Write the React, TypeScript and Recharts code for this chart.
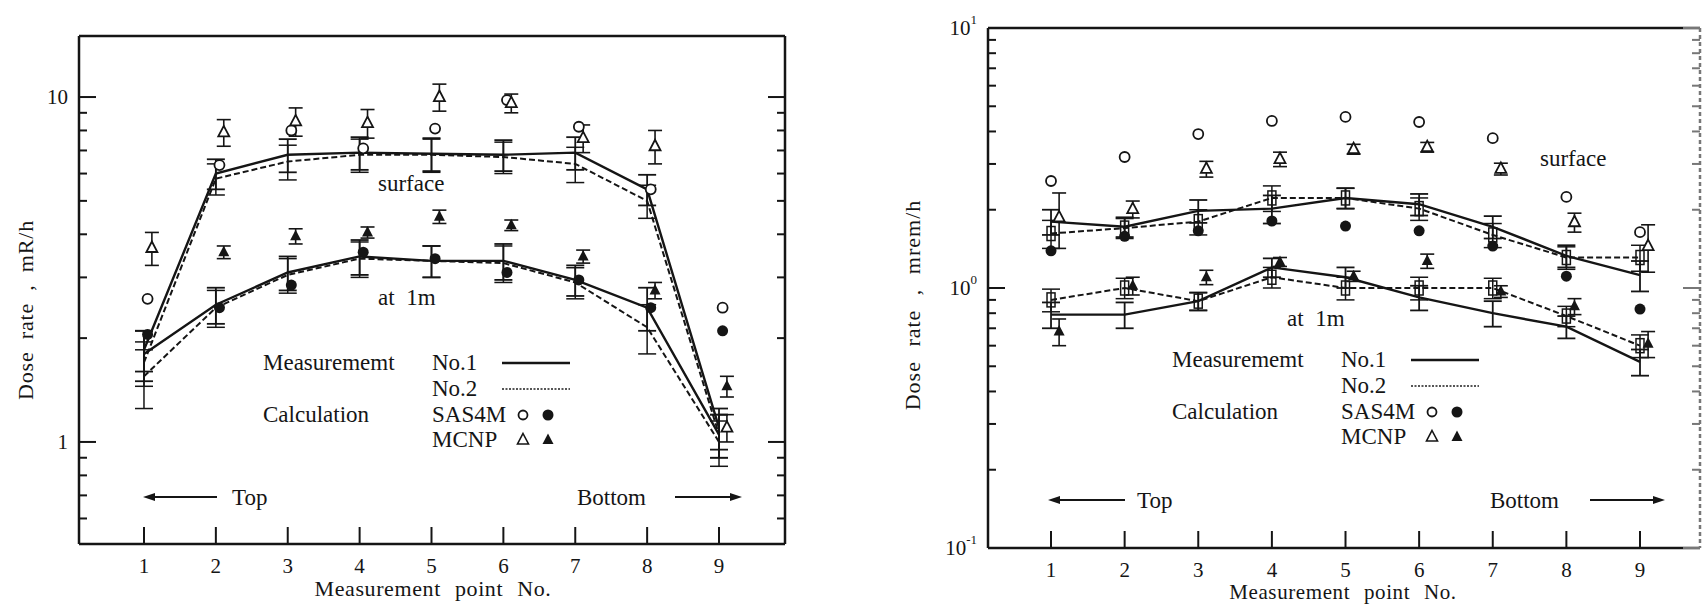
import React from 'react';
import { ComposedChart, ErrorBar, Line, Scatter, XAxis, YAxis } from 'recharts';

const INK = '#151515';
const SERIF = "'Liberation Serif', 'Times New Roman', 'DejaVu Serif', serif";

const POINT_NO = [1, 2, 3, 4, 5, 6, 7, 8, 9];

// left figure, dose rate in mR/h
const L_SURF_NO1 = [1.85, 6.0, 6.8, 6.9, 6.85, 6.8, 6.9, 5.4, 1.1];
const L_SURF_NO2 = [1.7, 5.8, 6.5, 6.8, 6.8, 6.7, 6.4, 5.0, 1.05];
const L_SURF_ERR = [0.25, 0.6, 0.75, 0.75, 0.75, 0.7, 0.75, 0.55, 0.15];
const L_1M_NO1 = [1.8, 2.5, 3.1, 3.45, 3.35, 3.35, 2.95, 2.45, 1.05];
const L_1M_NO2 = [1.55, 2.45, 3.05, 3.4, 3.35, 3.3, 2.9, 2.15, 1.0];
const L_1M_ERR = [0.3, 0.3, 0.35, 0.4, 0.35, 0.4, 0.3, 0.35, 0.15];
const L_SAS_SURF = [2.6, 6.35, 8.0, 7.1, 8.1, 9.8, 8.2, 5.4, 2.45];
const L_SAS_1M = [2.05, 2.45, 2.85, 3.55, 3.4, 3.1, 2.95, 2.45, 2.1];
const L_MCNP_SURF = [3.65, 7.9, 8.5, 8.4, 10.0, 9.6, 7.6, 7.2, 1.1];
const L_MCNP_SURF_ERR = [0.4, 0.7, 0.8, 0.8, 0.9, 0.6, 0.7, 0.8, 0.1];
const L_MCNP_1M = [null, 3.55, 3.95, 4.05, 4.5, 4.25, 3.45, 2.75, 1.45];
const L_MCNP_1M_ERR = [0, 0.15, 0.2, 0.15, 0.2, 0.15, 0.15, 0.15, 0.1];
const L_Y_TICKS = [0.6, 0.7, 0.8, 0.9, 1, 2, 3, 4, 5, 6, 7, 8, 9, 10];
const L_Y_MAJOR = [1, 10];

// right figure, dose rate in mrem/h
const R_SURF_NO1 = [1.8, 1.72, 1.98, 2.02, 2.22, 2.1, 1.72, 1.33, 1.12];
const R_SURF_NO2 = [1.62, 1.7, 1.8, 2.22, 2.22, 2.02, 1.6, 1.31, 1.31];
const R_SURF_ERR = [0.2, 0.15, 0.2, 0.25, 0.2, 0.2, 0.17, 0.13, 0.15];
const R_1M_NO1 = [0.79, 0.79, 0.89, 1.2, 1.1, 0.92, 0.8, 0.71, 0.52];
const R_1M_NO2 = [0.9, 1.0, 0.89, 1.1, 1.0, 1.0, 1.0, 0.78, 0.6];
const R_1M_ERR = [0.09, 0.09, 0.07, 0.1, 0.1, 0.1, 0.09, 0.07, 0.06];
const R_SAS_SURF = [2.58, 3.19, 3.91, 4.39, 4.55, 4.35, 3.77, 2.24, 1.64];
const R_SAS_1M = [1.39, 1.58, 1.66, 1.81, 1.73, 1.66, 1.45, 1.11, 0.83];
const R_MCNP_SURF = [1.87, 2.01, 2.87, 3.13, 3.42, 3.48, 2.87, 1.79, 1.45];
const R_MCNP_SURF_ERR = [0.45, 0.15, 0.2, 0.2, 0.15, 0.15, 0.15, 0.15, 0.3];
const R_MCNP_1M = [0.68, 1.02, 1.1, 1.26, 1.11, 1.27, 0.97, 0.85, 0.61];
const R_MCNP_1M_ERR = [0.08, 0.08, 0.07, 0.05, 0.05, 0.08, 0.05, 0.06, 0.07];
const R_Y_TICKS = [0.1, 0.2, 0.3, 0.4, 0.5, 0.6, 0.7, 0.8, 0.9, 1, 2, 3, 4, 5, 6, 7, 8, 9, 10];
const R_Y_MAJOR = [0.1, 1, 10];

type Pt = { x: number; y: number; e: number };

// calculated symbols sit a little to the right of the measured point
const SAS_SHIFT = 0.05;
const MCNP_SHIFT = 0.11;

function pts(vals: (number | null)[], errs?: number[], shift = 0): Pt[] {
  const out: Pt[] = [];
  vals.forEach((v, i) => {
    if (v != null) out.push({ x: POINT_NO[i] + shift, y: v, e: errs ? errs[i] : 0 });
  });
  return out;
}

const triPath = (cx: number, cy: number) =>
  `M${cx},${cy - 6.5} L${cx + 5.5},${cy + 4} L${cx - 5.5},${cy + 4} Z`;

const openCircle = (p: any) => <circle cx={p.cx} cy={p.cy} r={5} fill="#fff" stroke={INK} strokeWidth={1.8} />;
const fullCircle = (p: any) => <circle cx={p.cx} cy={p.cy} r={5.5} fill={INK} />;
const openTri = (p: any) => <path d={triPath(p.cx, p.cy)} fill="#fff" stroke={INK} strokeWidth={1.8} />;
const fullTri = (p: any) => <path d={triPath(p.cx, p.cy)} fill={INK} />;
const boxDot = (p: any) => (
  <rect key={`b${p.index}`} x={p.cx - 4} y={p.cy - 7} width={8} height={14} fill="none" stroke={INK} strokeWidth={1.5} />
);

const serifStyle = { fontFamily: SERIF };

interface PanelCfg {
  width: number;
  height: number;
  margin: { top: number; right: number; bottom: number; left: number };
  yAxisWidth: number;
  xAxisHeight: number;
  xDomain: [number, number];
  yDomain: [number, number];
  yTicks: number[];
  yMajors: number[];
  yLabel: (v: number) => React.ReactNode;
  surf1: Pt[];
  surf2: Pt[];
  m1: Pt[];
  m2: Pt[];
  sasSurf: Pt[];
  sas1m: Pt[];
  mcSurf: Pt[];
  mc1m: Pt[];
  boxes: boolean;
  rightFrame: { stroke: string; dash?: string };
}

function Panel({ c }: { c: PanelCfg }) {
  const frame = { stroke: INK, strokeWidth: 2.5 };
  const tickLen = (v: number) => (c.yMajors.includes(v) ? 17 : 8);

  const bottomTick = (p: any) => (
    <g>
      <line x1={p.x} x2={p.x} y1={p.y} y2={p.y - 17} stroke={INK} strokeWidth={2} />
      <text x={p.x} y={p.y + 22} textAnchor="middle" dominantBaseline="central" style={serifStyle} fontSize={21} fill={INK}>
        {p.payload.value}
      </text>
    </g>
  );
  const topTick = (p: any) => (
    <line x1={p.x} x2={p.x} y1={p.y} y2={p.y + 17} stroke={INK} strokeWidth={2} />
  );
  const leftTick = (p: any) => {
    const v = p.payload.value;
    return (
      <g>
        <line x1={p.x} x2={p.x + tickLen(v)} y1={p.y} y2={p.y} stroke={INK} strokeWidth={2} />
        {c.yMajors.includes(v) && (
          <text x={p.x - 11} y={p.y} textAnchor="end" dominantBaseline="central" style={serifStyle} fontSize={21} fill={INK}>
            {c.yLabel(v)}
          </text>
        )}
      </g>
    );
  };
  const rightTick = (p: any) => (
    <line x1={p.x} x2={p.x - tickLen(p.payload.value)} y1={p.y} y2={p.y} stroke={c.rightFrame.stroke} strokeWidth={2} />
  );

  const lineProps = {
    xAxisId: 'b',
    yAxisId: 'l',
    dataKey: 'y',
    type: 'linear' as const,
    stroke: INK,
    isAnimationActive: false,
  };

  return (
    <ComposedChart width={c.width} height={c.height} margin={c.margin}>
      <XAxis
        xAxisId="b"
        type="number"
        dataKey="x"
        orientation="bottom"
        domain={c.xDomain}
        allowDataOverflow
        ticks={POINT_NO}
        interval={0}
        height={c.xAxisHeight}
        tickSize={0}
        tickMargin={0}
        tickLine={false}
        axisLine={frame}
        tick={bottomTick}
      />
      <XAxis
        xAxisId="t"
        type="number"
        orientation="top"
        domain={c.xDomain}
        allowDataOverflow
        ticks={POINT_NO}
        interval={0}
        height={1}
        tickSize={0}
        tickMargin={0}
        tickLine={false}
        axisLine={frame}
        tick={topTick}
      />
      <YAxis
        yAxisId="l"
        type="number"
        scale="log"
        domain={c.yDomain}
        allowDataOverflow
        ticks={c.yTicks}
        interval={0}
        width={c.yAxisWidth}
        tickSize={0}
        tickMargin={0}
        tickLine={false}
        axisLine={frame}
        tick={leftTick}
      />
      <YAxis
        yAxisId="r"
        type="number"
        scale="log"
        orientation="right"
        domain={c.yDomain}
        allowDataOverflow
        ticks={c.yTicks}
        interval={0}
        width={1}
        tickSize={0}
        tickMargin={0}
        tickLine={false}
        axisLine={{ stroke: c.rightFrame.stroke, strokeWidth: 2.5, strokeDasharray: c.rightFrame.dash }}
        tick={rightTick}
      />

      <Line {...lineProps} data={c.surf1} strokeWidth={2.4} dot={false}>
        <ErrorBar dataKey="e" direction="y" width={9} stroke={INK} strokeWidth={1.8} />
      </Line>
      <Line {...lineProps} data={c.surf2} strokeWidth={2} strokeDasharray="6 3" dot={c.boxes ? boxDot : false}>
        <ErrorBar dataKey="e" direction="y" width={9} stroke={INK} strokeWidth={1.5} />
      </Line>
      <Line {...lineProps} data={c.m1} strokeWidth={2.4} dot={false}>
        <ErrorBar dataKey="e" direction="y" width={9} stroke={INK} strokeWidth={1.8} />
      </Line>
      <Line {...lineProps} data={c.m2} strokeWidth={2} strokeDasharray="6 3" dot={c.boxes ? boxDot : false}>
        <ErrorBar dataKey="e" direction="y" width={9} stroke={INK} strokeWidth={1.5} />
      </Line>

      <Scatter xAxisId="b" yAxisId="l" data={c.sasSurf} dataKey="y" shape={openCircle} isAnimationActive={false} />
      <Scatter xAxisId="b" yAxisId="l" data={c.sas1m} dataKey="y" shape={fullCircle} isAnimationActive={false} />
      <Scatter xAxisId="b" yAxisId="l" data={c.mcSurf} dataKey="y" shape={openTri} isAnimationActive={false}>
        <ErrorBar dataKey="e" direction="y" width={7} stroke={INK} strokeWidth={1.6} />
      </Scatter>
      <Scatter xAxisId="b" yAxisId="l" data={c.mc1m} dataKey="y" shape={fullTri} isAnimationActive={false}>
        <ErrorBar dataKey="e" direction="y" width={7} stroke={INK} strokeWidth={1.6} />
      </Scatter>
    </ComposedChart>
  );
}

const LEFT: PanelCfg = {
  width: 800,
  height: 606,
  margin: { top: 35, right: 14, bottom: 0, left: 0 },
  yAxisWidth: 79,
  xAxisHeight: 62,
  xDomain: [0.096, 9.918],
  yDomain: [0.506, 15.03],
  yTicks: L_Y_TICKS,
  yMajors: L_Y_MAJOR,
  yLabel: (v) => String(v),
  surf1: pts(L_SURF_NO1, L_SURF_ERR),
  surf2: pts(L_SURF_NO2, L_SURF_ERR),
  m1: pts(L_1M_NO1, L_1M_ERR),
  m2: pts(L_1M_NO2, L_1M_ERR),
  sasSurf: pts(L_SAS_SURF, undefined, SAS_SHIFT),
  sas1m: pts(L_SAS_1M, undefined, SAS_SHIFT),
  mcSurf: pts(L_MCNP_SURF, L_MCNP_SURF_ERR, MCNP_SHIFT),
  mc1m: pts(L_MCNP_1M, L_MCNP_1M_ERR, MCNP_SHIFT),
  boxes: false,
  rightFrame: { stroke: INK },
};

const RIGHT: PanelCfg = {
  width: 824,
  height: 606,
  margin: { top: 27, right: 3, bottom: 0, left: 0 },
  yAxisWidth: 108,
  xAxisHeight: 58,
  xDomain: [0.144, 9.815],
  yDomain: [0.1, 10],
  yTicks: R_Y_TICKS,
  yMajors: R_Y_MAJOR,
  yLabel: (v) => (
    <>
      10
      <tspan dy={-9} fontSize={13}>
        {Math.round(Math.log10(v))}
      </tspan>
    </>
  ),
  surf1: pts(R_SURF_NO1, R_SURF_ERR),
  surf2: pts(R_SURF_NO2, R_SURF_ERR),
  m1: pts(R_1M_NO1, R_1M_ERR),
  m2: pts(R_1M_NO2, R_1M_ERR),
  sasSurf: pts(R_SAS_SURF, undefined, 0),
  sas1m: pts(R_SAS_1M, undefined, 0),
  mcSurf: pts(R_MCNP_SURF, R_MCNP_SURF_ERR, MCNP_SHIFT),
  mc1m: pts(R_MCNP_1M, R_MCNP_1M_ERR, MCNP_SHIFT),
  boxes: true,
  rightFrame: { stroke: '#777', dash: '4 3' },
};

const txt = { style: serifStyle, fill: INK, dominantBaseline: 'central' as const };

function Legend({ x, y }: { x: number; y: number }) {
  // x: left of "Measurememt", y: first row
  const nx = x + 169;
  const lx = nx + 70;
  const mx = nx + 91;
  return (
    <g>
      <text x={x} y={y} fontSize={23} {...txt}>Measurememt</text>
      <text x={nx} y={y} fontSize={23} {...txt}>No.1</text>
      <line x1={lx} x2={lx + 68} y1={y + 1} y2={y + 1} stroke={INK} strokeWidth={2.5} />
      <text x={nx} y={y + 26} fontSize={23} {...txt}>No.2</text>
      <line x1={lx} x2={lx + 68} y1={y + 27} y2={y + 27} stroke="#555" strokeWidth={2} strokeDasharray="2 1.5" />
      <text x={x} y={y + 52} fontSize={23} {...txt}>Calculation</text>
      <text x={nx} y={y + 52} fontSize={23} {...txt}>SAS4M</text>
      <circle cx={mx} cy={y + 53} r={4.5} fill="#fff" stroke={INK} strokeWidth={1.8} />
      <circle cx={mx + 25} cy={y + 53} r={5.5} fill={INK} />
      <text x={nx} y={y + 77} fontSize={23} {...txt}>MCNP</text>
      <path d={triPath(mx, y + 78)} fill="#fff" stroke={INK} strokeWidth={1.6} />
      <path d={triPath(mx + 25, y + 78)} fill={INK} />
    </g>
  );
}

function Arrows({ y, l1, l2, topX, botX, r1, r2 }: { y: number; l1: number; l2: number; topX: number; botX: number; r1: number; r2: number }) {
  return (
    <g>
      <line x1={l1 + 6} x2={l2} y1={y} y2={y} stroke={INK} strokeWidth={2.2} />
      <path d={`M${l1},${y} L${l1 + 12},${y - 4} L${l1 + 12},${y + 4} Z`} fill={INK} />
      <text x={topX} y={y} fontSize={23} {...txt}>Top</text>
      <text x={botX} y={y} fontSize={23} {...txt}>Bottom</text>
      <line x1={r1} x2={r2 - 6} y1={y} y2={y} stroke={INK} strokeWidth={2.2} />
      <path d={`M${r2},${y} L${r2 - 12},${y - 4} L${r2 - 12},${y + 4} Z`} fill={INK} />
    </g>
  );
}

export default function App() {
  return (
    <div style={{ position: 'absolute', left: 0, top: 0, width: 1704, height: 606, background: '#fff', overflow: 'hidden', fontFamily: SERIF }}>
      <div style={{ position: 'absolute', left: 0, top: 0 }}>
        <Panel c={LEFT} />
      </div>
      <div style={{ position: 'absolute', left: 880, top: 0 }}>
        <Panel c={RIGHT} />
      </div>
      <svg width={1704} height={606} style={{ position: 'absolute', left: 0, top: 0, pointerEvents: 'none', fontFamily: SERIF }}>
        {/* left figure annotations */}
        <text x={25} y={310} fontSize={22} textAnchor="middle" transform="rotate(-90 25 310)" wordSpacing={6} letterSpacing={0.8} {...txt}>
          Dose rate , mR/h
        </text>
        <text x={433} y={588} fontSize={22} textAnchor="middle" wordSpacing={8} letterSpacing={0.6} {...txt}>
          Measurement point No.
        </text>
        <text x={378} y={183} fontSize={23} {...txt}>surface</text>
        <text x={378} y={297} fontSize={23} wordSpacing={6} {...txt}>at 1m</text>
        <Legend x={263} y={362} />
        <Arrows y={497} l1={143} l2={217} topX={232} botX={577} r1={675} r2={742} />

        {/* right figure annotations */}
        <text x={912} y={305} fontSize={22} textAnchor="middle" transform="rotate(-90 912 305)" wordSpacing={8} letterSpacing={1} {...txt}>
          Dose rate , mrem/h
        </text>
        <text x={1343} y={592} fontSize={21} textAnchor="middle" wordSpacing={8} letterSpacing={0.6} {...txt}>
          Measurement point No.
        </text>
        <text x={1540} y={158} fontSize={23} {...txt}>surface</text>
        <text x={1287} y={318} fontSize={23} wordSpacing={6} {...txt}>at 1m</text>
        <Legend x={1172} y={359} />
        <Arrows y={500} l1={1048} l2={1125} topX={1137} botX={1490} r1={1590} r2={1665} />
      </svg>
    </div>
  );
}
